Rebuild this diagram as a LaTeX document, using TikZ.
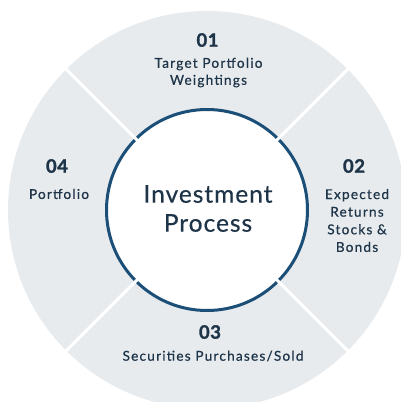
\documentclass[tikz,border=0pt]{standalone}
\usepackage{fontspec}
\setmainfont{Lato}
\newfontfamily\labfont{Lato}[LetterSpace=9, FakeBold=0.6]
\newfontfamily\titfont{Lato}[LetterSpace=4, FakeBold=0.4]
\newfontfamily\numfont{Lato}[LetterSpace=3, BoldFeatures={FakeBold=1.5}]
\usetikzlibrary{calc}
\definecolor{bgring}{HTML}{E8EBEE}
\definecolor{ringblue}{HTML}{1B4F78}
\definecolor{txt}{HTML}{1E3448}
\begin{document}
\begin{tikzpicture}[x=1pt,y=-1pt,
  num/.style={font=\numfont\fontsize{18.5}{20}\selectfont\bfseries, text=txt},
  lab/.style={font=\labfont\fontsize{13.6}{17}\selectfont, text=txt, align=center, inner sep=0pt},
  sep/.style={draw=white, line width=3pt}]
\useasboundingbox (0,0) rectangle (401,402);
\coordinate (c) at (207,210);
\fill[bgring] (c) circle[radius=199];
\node[circle, draw=ringblue, line width=3pt, fill=white, minimum size=201pt, inner sep=0pt] (inner) at (c) {};
\foreach \a in {45,135,225,315}
  \draw[sep] ($(c)+(\a:95)$) -- ($(c)+(\a:210)$);
\node[font=\titfont\fontsize{24.5}{29}\selectfont, text=txt, align=center, inner sep=0pt] (title) at (208,208.5) {Investment\\Process};
\node[num] (n1) at (207.5,40) {01};
\node[lab] (l1) at (208.5,72.5) {Target Portfolio\\Weightings};
\node[num] (n2) at (354,166) {02};
\node[lab, font=\labfont\fontsize{13.6}{17.6}\selectfont] (l2) at (357,220.5) {Expected\\Returns\\Stocks \&\\Bonds};
\node[num] (n4) at (57,166) {04};
\node[lab] (l4) at (59,194) {Portfolio};
\node[num] (n3) at (210,332) {03};
\node[lab] (l3) at (213,356) {Securities Purchases/Sold};
\end{tikzpicture}
\end{document}
